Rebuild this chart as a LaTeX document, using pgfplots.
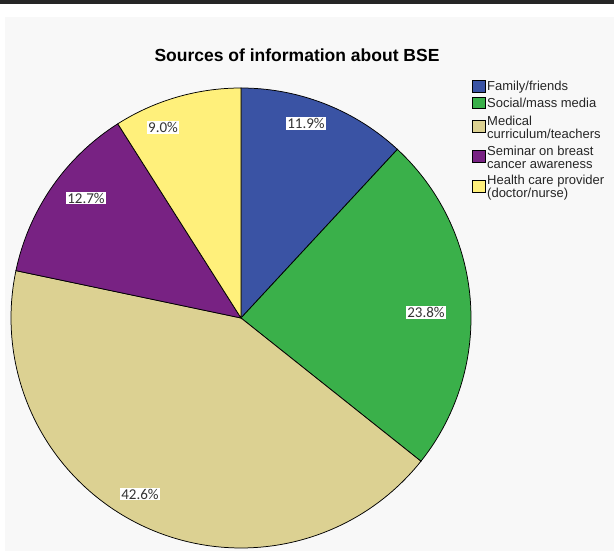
\documentclass[border=0pt]{standalone}
\usepackage{pgfplots}
\pgfplotsset{compat=1.18}
\usepackage{fontspec}
\setmainfont{Liberation Sans}
\newfontfamily\lab{Carlito}
\definecolor{cblue}{HTML}{3A53A4}
\definecolor{cgreen}{HTML}{3AB04A}
\definecolor{ctan}{HTML}{DCD192}
\definecolor{cpurple}{HTML}{782283}
\definecolor{cyellow}{HTML}{FFF07B}
\definecolor{bg}{HTML}{F8F8F8}
% percentages (clockwise from 12 o'clock)
\def\pA{11.9}\def\pB{23.8}\def\pC{42.6}\def\pD{12.7}\def\pE{9.0}
\pgfmathsetmacro{\aA}{90}
\pgfmathsetmacro{\aB}{\aA-3.6*\pA}
\pgfmathsetmacro{\aC}{\aB-3.6*\pB}
\pgfmathsetmacro{\aD}{\aC-3.6*\pC}
\pgfmathsetmacro{\aE}{\aD-3.6*\pD}
\pgfmathsetmacro{\aF}{\aE-3.6*\pE}
\def\cx{241}\def\cy{233}\def\rr{230}
\begin{document}
\begin{tikzpicture}
\begin{axis}[
  scale only axis, width=614bp, height=551bp,
  xmin=0, xmax=614, ymin=0, ymax=551,
  hide axis, clip=false]
\fill[white] (axis cs:0,0) rectangle (axis cs:614,551);
\fill[bg] (axis cs:5,0) rectangle (axis cs:614,534);
\fill[black!85] (axis cs:0,547) rectangle (axis cs:614,551);
\addplot[fill=cblue, draw=black, line width=0.75pt, domain=\aA:\aB, samples=60]
  ({\cx+\rr*cos(x)},{\cy+\rr*sin(x)}) -- (axis cs:\cx,\cy) -- cycle;
\addplot[fill=cgreen, draw=black, line width=0.75pt, domain=\aB:\aC, samples=80]
  ({\cx+\rr*cos(x)},{\cy+\rr*sin(x)}) -- (axis cs:\cx,\cy) -- cycle;
\addplot[fill=ctan, draw=black, line width=0.75pt, domain=\aC:\aD, samples=120]
  ({\cx+\rr*cos(x)},{\cy+\rr*sin(x)}) -- (axis cs:\cx,\cy) -- cycle;
\addplot[fill=cpurple, draw=black, line width=0.75pt, domain=\aD:\aE, samples=60]
  ({\cx+\rr*cos(x)},{\cy+\rr*sin(x)}) -- (axis cs:\cx,\cy) -- cycle;
\addplot[fill=cyellow, draw=black, line width=0.75pt, domain=\aE:\aF, samples=60]
  ({\cx+\rr*cos(x)},{\cy+\rr*sin(x)}) -- (axis cs:\cx,\cy) -- cycle;
% slice labels
\tikzset{pl/.style={fill=white, inner sep=1.2pt, text=black!80, font=\lab\fontsize{15bp}{16bp}\selectfont}}
\node[pl] at (axis cs:306,427.5) {11.9\%};
\node[pl] at (axis cs:426,238.5) {23.8\%};
\node[pl] at (axis cs:140,57) {42.6\%};
\node[pl] at (axis cs:86,353) {12.7\%};
\node[pl] at (axis cs:163,423.5) {9.0\%};
% title
\node[font=\bfseries\fontsize{17.5bp}{19bp}\selectfont] at (axis cs:297,496) {Sources of information about BSE};
% legend
\tikzset{lt/.style={anchor=west, align=left, inner sep=0pt, text=black!85, font=\fontsize{13bp}{13bp}\selectfont}}
\draw[fill=cblue, line width=0.6pt] (axis cs:472,459) rectangle (axis cs:485,471);
\node[lt] at (axis cs:487,464) {Family/friends};
\draw[fill=cgreen, line width=0.6pt] (axis cs:472,443) rectangle (axis cs:485,454);
\node[lt] at (axis cs:487,448) {Social/mass media};
\draw[fill=ctan, line width=0.6pt] (axis cs:472,419) rectangle (axis cs:485,431);
\node[lt] at (axis cs:487,423.5) {Medical\\curriculum/teachers};
\draw[fill=cpurple, line width=0.6pt] (axis cs:472,389) rectangle (axis cs:485,401);
\node[lt] at (axis cs:487,393.5) {Seminar on breast\\cancer awareness};
\draw[fill=cyellow, line width=0.6pt] (axis cs:472,359) rectangle (axis cs:485,371);
\node[lt] at (axis cs:487,363.5) {Health care provider\\(doctor/nurse)};
\end{axis}
\end{tikzpicture}
\end{document}
